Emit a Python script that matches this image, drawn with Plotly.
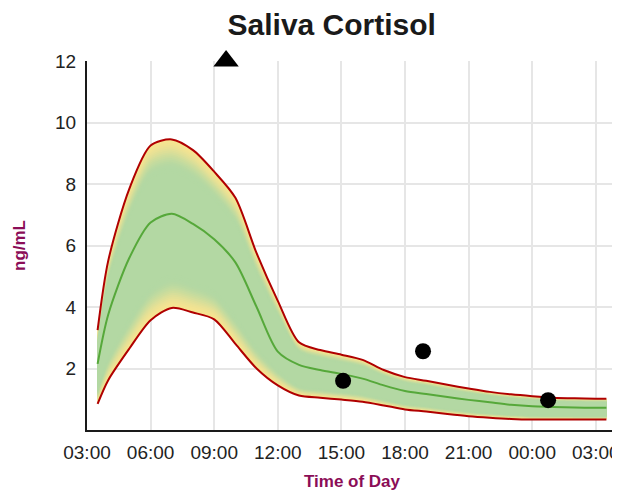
import plotly.graph_objects as go

# ---- data ----
hours = [3.5, 4, 5, 6, 7, 8, 9, 10, 11, 12, 13, 14, 15, 16, 17, 18, 19, 20,
         21, 22, 23, 24, 25, 26, 27, 27.5]
upper = [3.25, 5.5, 7.85, 9.25, 9.45, 9.1, 8.4, 7.55, 5.75, 4.2, 2.85, 2.6,
         2.45, 2.28, 1.95, 1.72, 1.6, 1.47, 1.35, 1.24, 1.16, 1.1, 1.05, 1.03,
         1.02, 1.02]
middle = [2.15, 3.75, 5.6, 6.75, 7.03, 6.7, 6.2, 5.45, 4.0, 2.55, 2.12, 1.95,
          1.82, 1.67, 1.45, 1.27, 1.17, 1.07, 0.98, 0.9, 0.82, 0.77, 0.75,
          0.73, 0.72, 0.72]
lower = [0.85, 1.62, 2.65, 3.57, 3.97, 3.82, 3.6, 2.8, 2.0, 1.45, 1.12, 1.05,
         0.99, 0.92, 0.8, 0.67, 0.6, 0.52, 0.45, 0.4, 0.36, 0.34, 0.34, 0.34,
         0.34, 0.34]

sample_hours = [15.08, 18.85, 24.75]
sample_values = [1.6, 2.56, 0.97]
high_hours = [9.56]
high_values = [12]

tick_hours = [3, 6, 9, 12, 15, 18, 21, 24, 27]
tick_labels = ["03:00", "06:00", "09:00", "12:00", "15:00", "18:00", "21:00",
               "00:00", "03:00"]
y_ticks = [2, 4, 6, 8, 10, 12]

# ---- style ----
YELLOW = (247, 228, 145)
GREEN = (179, 216, 163)
RED = "#b00000"
LINEGREEN = "#56a83a"
AXIS_TITLE = "#8b0d57"
SMOOTH = 0.8


def mix(c1, c2, f):
    return "rgb(%d,%d,%d)" % tuple(round(a + (b - a) * f) for a, b in zip(c1, c2))


def band_color(d):
    f = min(1.0, d / 0.17)
    f = f * f * (3 - 2 * f)
    return mix(YELLOW, GREEN, f)


fig = go.Figure()

# nested fills: each covers [t, 1-t] and sits on top of the previous one
M = 18
for k in range(M + 1):
    t = 0.2 * k / M
    lo_b = [lo + t * (up - lo) for lo, up in zip(lower, upper)]
    up_b = [lo + (1 - t) * (up - lo) for lo, up in zip(lower, upper)]
    fig.add_trace(go.Scatter(x=hours, y=lo_b, mode="lines",
                             line=dict(width=0, shape="spline", smoothing=SMOOTH),
                             hoverinfo="skip", showlegend=False))
    fig.add_trace(go.Scatter(x=hours, y=up_b, mode="lines",
                             line=dict(width=0, shape="spline", smoothing=SMOOTH),
                             fill="tonexty", fillcolor=band_color(t + 0.1 / M),
                             hoverinfo="skip", showlegend=False))

fig.add_trace(go.Scatter(x=hours, y=upper, mode="lines",
                         line=dict(color=RED, width=2, shape="spline", smoothing=SMOOTH),
                         showlegend=False, name="Upper"))
fig.add_trace(go.Scatter(x=hours, y=lower, mode="lines",
                         line=dict(color=RED, width=2, shape="spline", smoothing=SMOOTH),
                         showlegend=False, name="Lower"))
fig.add_trace(go.Scatter(x=hours, y=middle, mode="lines",
                         line=dict(color=LINEGREEN, width=2, shape="spline", smoothing=SMOOTH),
                         showlegend=False, name="Median"))

fig.add_trace(go.Scatter(x=sample_hours, y=sample_values, mode="markers",
                         marker=dict(color="black", size=16, symbol="circle"),
                         showlegend=False, name="Sample", cliponaxis=False))
fig.add_trace(go.Scatter(x=high_hours, y=high_values, mode="markers",
                         marker=dict(color="black", size=22, symbol="triangle-up"),
                         showlegend=False, name="Above range", cliponaxis=False))

FONT = "Liberation Sans, Arial, sans-serif"

# the page body adds an 8px offset; the figure size/margins compensate for it
fig.update_layout(
    width=612, height=483,
    margin=dict(l=79, r=3, t=53, b=61, autoexpand=False),
    paper_bgcolor="white", plot_bgcolor="white",
    font=dict(family=FONT, color="#222222", size=19),
    title=dict(text="<b>Saliva Cortisol</b>", x=0.529, xref="container",
               xanchor="center", y=1 - 16.5 / 483, yref="container", yanchor="middle",
               font=dict(size=30, color="#1a1a1a", family=FONT)),
    xaxis=dict(range=[3, 28], tickvals=tick_hours, ticktext=tick_labels,
               showgrid=True, gridcolor="#e6e6e6", gridwidth=2,
               showline=True, linecolor="#1a1a1a", linewidth=2,
               zeroline=False, ticks="", ticklabelstandoff=4, automargin=False,
               ticklabeloverflow="allow",
               title=dict(text="<b>Time of Day</b>", standoff=13,
                          font=dict(size=17, color=AXIS_TITLE))),
    yaxis=dict(range=[0, 12], tickvals=y_ticks,
               showgrid=True, gridcolor="#e6e6e6", gridwidth=2,
               showline=True, linecolor="#1a1a1a", linewidth=2,
               zeroline=False, ticks="", ticklabelstandoff=5, automargin=False,
               title=dict(text="<b>ng/mL</b>", standoff=25,
                          font=dict(size=17, color=AXIS_TITLE))),
)

fig.write_html("out.html")
